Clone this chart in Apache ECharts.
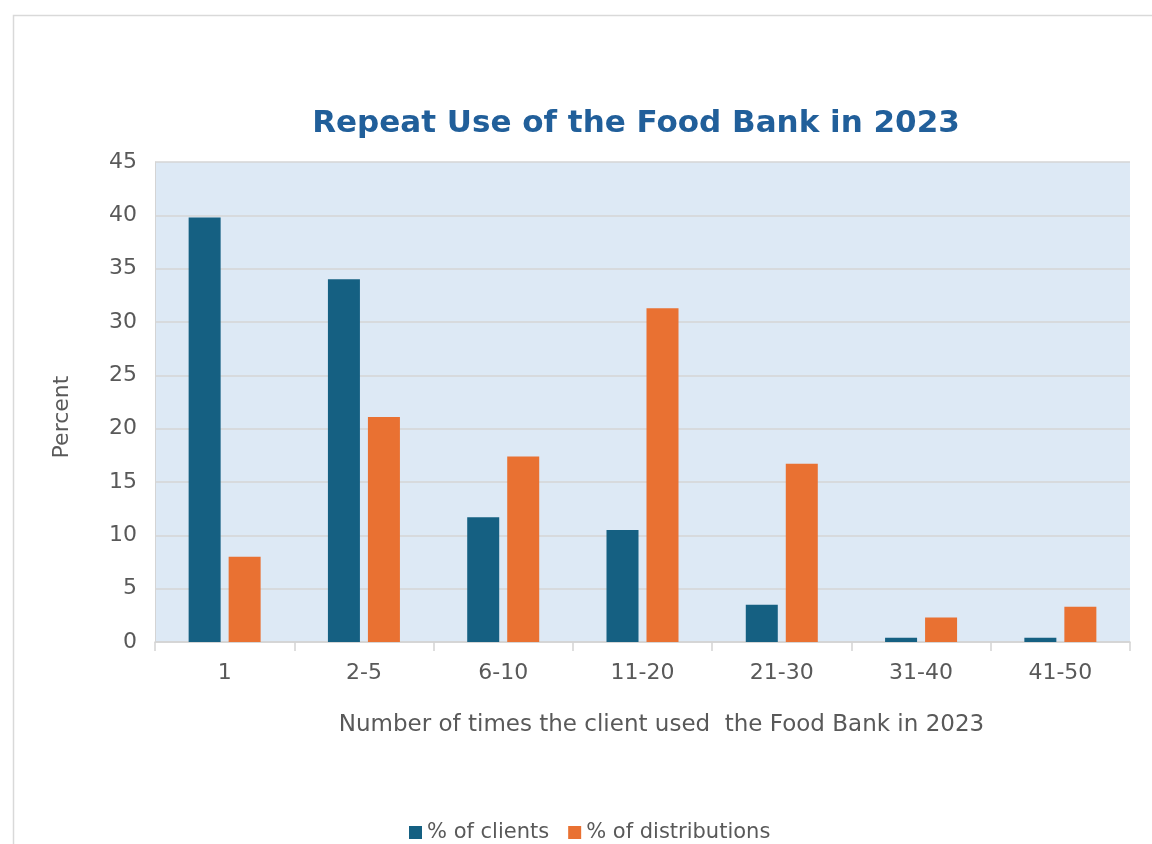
<!DOCTYPE html>
<html>
<head>
<meta charset="utf-8">
<style>
  html, body { margin: 0; padding: 0; background: #fff; }
  #chart { width: 1152px; height: 844px; }
</style>
<script src="https://cdn.jsdelivr.net/npm/echarts@6/dist/echarts.min.js"></script>
</head>
<body>
<div id="chart"></div>
<script>
  const categories = ['1', '2-5', '6-10', '11-20', '21-30', '31-40', '41-50'];
  const clients = [39.8, 34.0, 11.7, 10.5, 3.5, 0.4, 0.4];
  const distributions = [8.0, 21.1, 17.4, 31.3, 16.7, 2.3, 3.3];
  const seriesNames = ['% of clients', '% of distributions'];

  const chart = echarts.init(document.getElementById('chart'));
  const labelColor = '#595959';
  const font = 'DejaVu Sans';

  chart.setOption({
    backgroundColor: '#fff',
    animation: false,
    graphic: [{
      type: 'rect',
      shape: { x: 13.5, y: 15.5, width: 1200, height: 900 },
      style: { fill: null, stroke: '#d9d9d9', lineWidth: 1.5 }
    }],
    title: {
      text: 'Repeat Use of the Food Bank in 2023',
      left: 636,
      top: 103,
      textAlign: 'center',
      textStyle: {
        fontFamily: 'DejaVu Sans',
        fontWeight: 'bold',
        fontSize: 31,
        color: '#215f9a'
      }
    },
    legend: {
      data: seriesNames,
      top: 817,
      left: 404,
      itemWidth: 13,
      itemHeight: 13,
      itemGap: 19,
      icon: 'rect',
      textStyle: { fontFamily: font, fontSize: 21, color: labelColor }
    },
    grid: {
      left: 155,
      right: 22,
      top: 162,
      bottom: 202,
      show: true,
      backgroundColor: '#dde9f5',
      borderWidth: 0
    },
    xAxis: {
      type: 'category',
      data: categories,
      name: 'Number of times the client used  the Food Bank in 2023',
      nameLocation: 'middle',
      nameGap: 72,
      nameTextStyle: { fontFamily: font, fontSize: 23, color: labelColor, padding: [0, 0, 0, 38] },
      axisLine: { lineStyle: { color: '#d4d4d4', width: 1.5 } },
      axisTick: { show: true, length: 9, alignWithLabel: false, lineStyle: { color: '#d4d4d4', width: 1.5 } },
      axisLabel: { fontFamily: font, fontSize: 22, color: labelColor, margin: 20 }
    },
    yAxis: {
      type: 'value',
      min: 0,
      max: 45,
      interval: 5,
      name: 'Percent',
      nameLocation: 'middle',
      nameGap: 82,
      nameTextStyle: { fontFamily: font, fontSize: 22, color: labelColor, padding: [0, 30, 0, 0] },
      axisLine: { show: true, lineStyle: { color: '#d4d4d4', width: 1 } },
      axisTick: { show: false },
      axisLabel: { fontFamily: font, fontSize: 22, color: labelColor, margin: 18 },
      splitLine: { lineStyle: { color: '#d4d4d4', width: 1.5 } }
    },
    series: [{
      name: seriesNames[0],
      type: 'bar',
      data: clients,
      barWidth: 32,
      barGap: '25%',
      itemStyle: { color: '#156082' }
    }, {
      name: seriesNames[1],
      type: 'bar',
      data: distributions,
      barWidth: 32,
      itemStyle: { color: '#e97132' }
    }]
  });
  // title sits a few px left of the plot centre in the original
  chart.setOption({ title: { left: 631 } });
</script>
</body>
</html>
